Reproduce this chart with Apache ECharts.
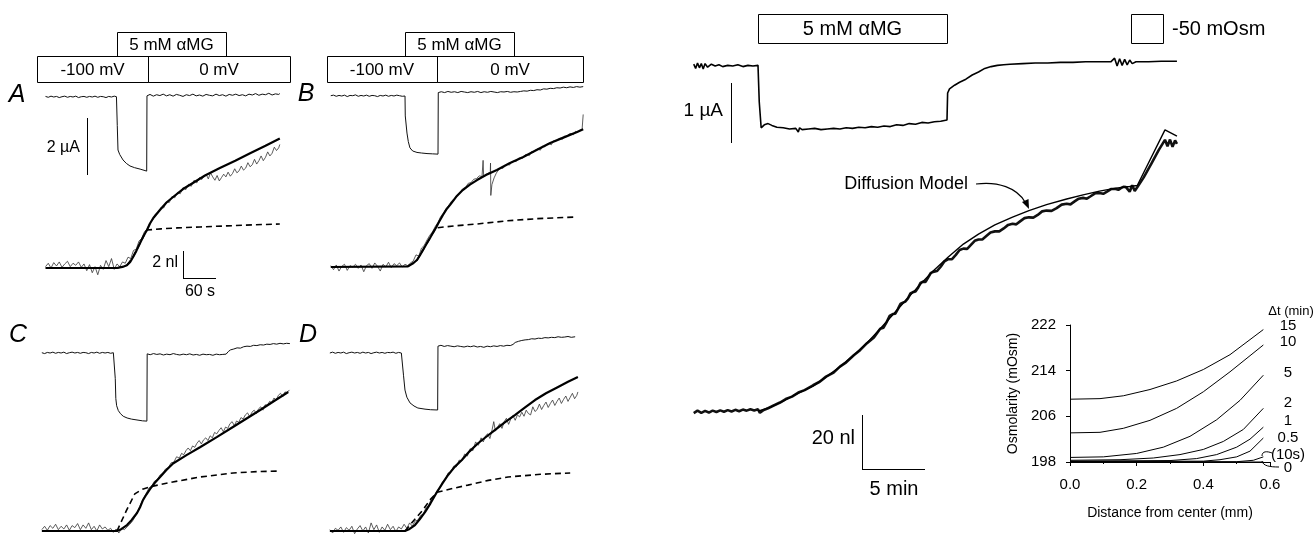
<!DOCTYPE html>
<html><head><meta charset="utf-8">
<script src="https://cdn.jsdelivr.net/npm/echarts@6/dist/echarts.min.js"></script>
<style>html,body{margin:0;padding:0;background:#fff}#c{width:1315px;height:536px}</style>
</head><body><div id="c"></div>
<script>
// ---------------- DATA ----------------
// Panels A-D: time in s (0 = start of 5 mM aMG), current in uA, volume in nl
const A_cur = [[-130,0.02],[-125,-0.01],[-120,0.03],[-115,0.0],[-110,0.02],[-105,-0.02],[-100,0.01],[-95,0.03],[-90,-0.01],[-85,0.02],[-80,0.0],[-75,0.03],[-70,-0.02],[-65,0.01],[-60,0.02],[-55,-0.01],[-50,0.02],[-45,0.0],[-40,0.03],[-35,-0.01],[-30,0.02],[-25,0.01],[-20,-0.02],[-15,0.02],[-10,0.0],[-5,0.03],[-1,0.01],[0,0.0],[0.5,-1.0],[1.8,-1.86],[5,-2.02],[11,-2.21],[17,-2.33],[23.6,-2.42],[32,-2.48],[42,-2.53],[54,-2.6],[54.5,0.04],[60,0.09],[66,0.03],[72,0.08],[78,0.05],[84,0.1],[90,0.04],[96,0.08],[102,0.03],[108,0.09],[114,0.06],[120,0.02],[126,0.08],[132,0.05],[138,0.1],[144,0.04],[150,0.07],[156,0.03],[162,0.09],[168,0.06],[174,0.04],[180,0.1],[186,0.05],[192,0.08],[198,0.03],[204,0.09],[210,0.06],[216,0.1],[222,0.05],[228,0.08],[234,0.04],[240,0.1],[246,0.07],[252,0.12],[258,0.06],[264,0.1],[270,0.08],[276,0.13],[282,0.07],[288,0.11],[294,0.09],[296,0.12]];
const A_raw = [[-130,0.1],[-125,0.35],[-120,0.0],[-115,0.4],[-110,0.15],[-105,0.45],[-100,0.05],[-95,0.3],[-90,0.5],[-85,0.1],[-80,0.35],[-75,0.2],[-70,0.45],[-65,0.05],[-60,0.3],[-55,-0.2],[-50,0.25],[-45,-0.35],[-40,0.1],[-35,-0.5],[-30,0.2],[-25,-0.1],[-20,0.55],[-15,0.1],[-10,0.7],[-5,-0.1],[0,0.3],[5,0.1],[10,0.45],[15,0.35],[20,0.8],[25,0.7],[30,1.3],[35,1.4],[40,2.0],[45,2.2],[50,2.7],[55,2.9],[60,3.35],[65,3.55],[70,4.0],[75,4.1],[80,4.5],[85,4.45],[90,4.9],[95,4.85],[100,5.3],[105,5.2],[110,5.6],[115,5.5],[120,5.95],[125,5.8],[130,6.2],[135,6.05],[140,6.5],[145,6.3],[150,6.7],[154,6.55],[158,6.8],[162,6.95],[166,6.6],[170,7.05],[174,6.75],[178,6.5],[182,6.85],[186,6.45],[190,6.7],[194,6.95],[198,6.75],[202,7.1],[206,6.8],[210,7.0],[214,7.35],[218,7.05],[222,7.2],[226,7.55],[230,7.25],[234,7.4],[238,7.8],[242,7.5],[246,7.65],[250,8.05],[254,7.7],[258,7.95],[262,8.3],[266,7.95],[270,8.2],[274,8.6],[278,8.3],[282,8.5],[286,8.95],[290,8.7],[294,8.9],[296,9.15]];
const A_fit = [[-130,0],[0,0],[10,0.08],[18,0.2],[24,0.45],[29,0.8],[35,1.25],[42,1.85],[48,2.35],[54.5,2.81],[60,3.3],[66,3.7],[72,4.0],[78,4.3],[90,4.85],[102,5.26],[120,5.85],[138,6.3],[160,6.85],[187,7.4],[215,7.95],[242,8.5],[270,9.05],[296,9.6]];
const A_dash = [[0,0],[18,0.2],[29,0.8],[42,1.85],[54.5,2.81],[80,2.9],[110,2.97],[151,3.04],[200,3.12],[250,3.2],[296,3.26]];

const B_cur = [[-135,0.01],[-130,0.03],[-125,-0.01],[-120,0.02],[-115,0.0],[-110,0.03],[-105,-0.02],[-100,0.02],[-95,0.01],[-90,0.04],[-85,-0.01],[-80,0.02],[-75,0.0],[-70,0.03],[-65,-0.01],[-60,0.02],[-55,0.01],[-50,-0.02],[-45,0.02],[-40,0.0],[-35,0.03],[-30,-0.01],[-25,0.02],[-20,0.0],[-15,0.03],[-10,0.01],[-5,-0.01],[0,0.0],[0.5,-0.7],[3.6,-1.3],[6,-1.6],[9,-1.82],[14,-1.93],[21.8,-1.98],[30,-2.0],[40,-2.02],[50,-2.03],[60,-2.04],[60.5,0.12],[66,0.15],[72,0.12],[78,0.16],[84,0.13],[90,0.15],[96,0.12],[102,0.16],[108,0.14],[114,0.12],[120,0.15],[126,0.13],[132,0.16],[138,0.12],[144,0.15],[150,0.13],[156,0.16],[162,0.14],[168,0.12],[174,0.15],[180,0.14],[186,0.16],[192,0.13],[198,0.15],[204,0.14],[210,0.16],[216,0.18],[222,0.17],[228,0.2],[234,0.19],[240,0.22],[246,0.21],[252,0.25],[258,0.24],[264,0.27],[270,0.26],[276,0.29],[282,0.28],[288,0.31],[294,0.29],[300,0.32],[306,0.3],[312,0.33],[318,0.31],[324,0.33]];
const B_raw = [[-135,0.1],[-130,-0.2],[-125,0.15],[-120,-0.3],[-115,0.05],[-110,0.2],[-105,-0.25],[-100,0.1],[-95,0.0],[-90,0.2],[-85,-0.1],[-80,0.15],[-75,-0.35],[-70,0.1],[-65,0.25],[-60,-0.1],[-55,0.3],[-50,0.05],[-45,-0.3],[-40,0.2],[-35,0.0],[-30,0.35],[-25,-0.05],[-20,0.25],[-15,0.1],[-10,0.3],[-5,0.0],[0,0.2],[5,0.1],[10,0.3],[15,0.45],[20,0.9],[25,0.8],[30,1.4],[35,1.6],[40,2.0],[45,2.35],[50,2.6],[55,3.0],[60,3.3],[65,3.75],[70,4.0],[75,4.35],[80,4.6],[85,4.9],[90,5.05],[95,5.35],[100,5.5],[105,5.8],[110,5.9],[115,6.2],[120,6.25],[125,6.5],[130,6.55],[135,6.75],[140,6.7],[142,7.9],[143,6.7],[147,6.85],[151,6.95],[155,7.0],[155.5,7.7],[156,5.3],[158,6.1],[162,6.6],[166,6.95],[170,7.2],[174,7.35],[178,7.3],[182,7.5],[186,7.6],[190,7.55],[194,7.8],[198,7.85],[202,7.8],[206,8.05],[210,8.1],[214,8.05],[218,8.3],[222,8.35],[226,8.25],[230,8.55],[234,8.5],[238,8.7],[242,8.75],[246,8.65],[250,8.95],[254,8.9],[258,9.1],[262,9.15],[266,9.05],[270,9.35],[274,9.3],[278,9.45],[282,9.55],[286,9.45],[290,9.7],[294,9.65],[298,9.85],[302,9.9],[306,9.8],[310,10.05],[314,10.0],[318,10.15],[322,10.2],[324,11.3]];
const B_fit = [[-135,0],[5.5,0.05],[14,0.25],[21.8,0.52],[27,0.85],[32.7,1.26],[39,1.7],[45.5,2.15],[51,2.55],[56,2.89],[62,3.35],[69,3.85],[75,4.25],[82,4.6],[93,5.2],[105,5.7],[118,6.1],[131,6.44],[148,6.83],[167,7.19],[190,7.68],[215,8.15],[240,8.68],[264,9.19],[290,9.62],[313,10.0],[324,10.2]];
const B_dash = [[5.5,0.05],[21.8,0.52],[32.7,1.26],[45.5,2.15],[56,2.89],[90,3.05],[130,3.18],[185,3.42],[240,3.58],[309,3.7]];

const C_cur = [[-133,0.01],[-128,-0.02],[-123,0.02],[-118,0.0],[-113,0.03],[-108,-0.01],[-103,0.02],[-98,0.0],[-93,0.03],[-88,-0.02],[-83,0.01],[-78,0.03],[-73,0.0],[-68,0.02],[-63,-0.01],[-58,0.02],[-53,0.01],[-48,-0.02],[-43,0.02],[-38,0.0],[-33,0.03],[-28,-0.01],[-23,0.02],[-18,0.0],[-13,0.02],[-8,-0.01],[-3,0.01],[0,0.0],[0.5,-0.9],[1.5,-1.6],[3,-1.85],[6,-2.02],[10,-2.13],[15,-2.22],[22,-2.28],[30,-2.32],[40,-2.35],[50,-2.38],[58,-2.39],[58.5,-0.03],[64,-0.06],[70,-0.02],[76,-0.05],[82,-0.03],[88,-0.07],[94,-0.04],[100,-0.06],[106,-0.02],[112,-0.05],[118,-0.07],[124,-0.04],[130,-0.06],[136,-0.03],[142,-0.07],[148,-0.05],[154,-0.08],[160,-0.04],[166,-0.06],[172,-0.05],[178,-0.08],[184,-0.04],[190,-0.06],[196,-0.05],[202,-0.04],[206,0.05],[210,0.11],[216,0.14],[222,0.18],[228,0.17],[234,0.22],[240,0.24],[246,0.23],[252,0.27],[258,0.26],[264,0.29],[270,0.28],[276,0.31],[282,0.3],[288,0.33],[294,0.31],[300,0.34],[306,0.32],[312,0.34],[318,0.33]];
const C_raw = [[-133,0.1],[-128,0.35],[-123,0.05],[-118,0.4],[-113,0.2],[-108,0.5],[-103,0.1],[-98,0.35],[-93,0.15],[-88,0.45],[-83,0.05],[-78,0.4],[-73,0.25],[-68,0.55],[-63,0.1],[-58,0.45],[-53,0.2],[-48,0.6],[-43,0.1],[-38,0.35],[-33,0.0],[-28,0.45],[-23,0.15],[-18,0.3],[-13,0.05],[-8,0.2],[-3,-0.1],[2,0.15],[7,-0.15],[12,0.2],[17,0.1],[22,0.3],[27,0.5],[32,0.75],[37,1.1],[42,1.5],[47,2.0],[52,2.45],[57,2.8],[62,3.2],[67,3.35],[72,3.7],[77,3.8],[82,4.15],[87,4.3],[92,4.6],[97,4.7],[102,5.05],[107,5.1],[112,5.5],[117,5.4],[121,5.75],[125,5.65],[129,5.95],[133,6.15],[137,5.95],[141,6.3],[145,6.2],[149,6.5],[153,6.7],[157,6.45],[161,6.75],[165,6.9],[169,6.7],[173,7.05],[177,6.9],[181,7.3],[185,7.2],[189,7.45],[193,7.65],[197,7.35],[201,7.7],[205,7.6],[209,7.95],[213,8.1],[217,7.8],[221,8.15],[225,8.05],[229,8.4],[233,8.3],[237,8.6],[241,8.75],[245,8.45],[249,8.8],[253,8.95],[257,8.7],[261,9.05],[265,9.2],[269,8.95],[273,9.35],[277,9.3],[281,9.6],[285,9.5],[289,9.85],[293,9.7],[297,10.05],[301,10.2],[305,9.95],[309,10.3],[313,10.25],[317,10.45]];
const C_fit = [[-133,0],[3.6,0],[12,0.15],[21.8,0.44],[30,0.8],[40,1.33],[46,1.8],[51,2.3],[57,2.7],[63.6,3.1],[72,3.55],[82,4.0],[93,4.5],[105.5,5.0],[130,5.62],[154.5,6.2],[185,6.95],[214.5,7.7],[240,8.35],[264,8.96],[290,9.65],[315,10.3]];
const C_dash = [[3.6,0],[20,1.45],[36,2.75],[50,3.1],[64,3.28],[105,3.63],[155,4.0],[215,4.3],[260,4.4],[300,4.44]];

const D_cur = [[-133,0.0],[-128,0.03],[-123,-0.01],[-118,0.02],[-113,0.0],[-108,0.03],[-103,-0.02],[-98,0.01],[-93,0.03],[-88,0.0],[-83,0.02],[-78,-0.01],[-73,0.03],[-68,0.0],[-63,0.02],[-58,-0.02],[-53,0.01],[-48,0.03],[-43,0.0],[-38,0.02],[-33,-0.01],[-28,0.02],[-23,0.01],[-18,0.03],[-13,-0.01],[-8,0.02],[-3,0.0],[0,0.01],[1,-0.8],[3.6,-1.3],[7,-1.55],[12.7,-1.75],[20,-1.86],[27,-1.93],[40,-1.97],[50,-1.99],[63,-2.0],[63.6,0.24],[69,0.27],[75,0.23],[81,0.26],[87,0.24],[93,0.22],[99,0.25],[105,0.23],[111,0.21],[117,0.24],[123,0.22],[129,0.25],[135,0.21],[141,0.23],[147,0.2],[153,0.24],[159,0.22],[165,0.25],[171,0.23],[177,0.26],[183,0.24],[189,0.27],[195,0.26],[200,0.3],[204,0.37],[210,0.41],[216,0.44],[222,0.46],[228,0.47],[234,0.5],[240,0.49],[246,0.52],[252,0.51],[258,0.54],[264,0.53],[270,0.55],[276,0.54],[282,0.57],[288,0.55],[294,0.56],[300,0.58],[306,0.55],[313,0.57]];
const D_raw = [[-133,0.1],[-128,-0.15],[-123,0.2],[-118,0.05],[-113,0.3],[-108,-0.1],[-103,0.25],[-98,0.05],[-93,0.35],[-88,-0.2],[-83,0.15],[-78,0.4],[-73,0.0],[-68,0.3],[-63,-0.15],[-58,0.6],[-53,0.1],[-48,0.45],[-43,-0.1],[-38,0.3],[-33,0.05],[-28,0.5],[-23,0.1],[-18,0.35],[-13,-0.05],[-8,0.3],[-3,0.15],[2,0.5],[7,0.2],[12,0.6],[17,0.35],[22,0.75],[27,0.8],[32,1.15],[37,1.25],[42,1.75],[47,1.9],[52,2.45],[57,2.6],[62,3.0],[67,3.15],[72,3.65],[77,3.8],[82,4.3],[87,4.35],[92,4.8],[97,4.75],[102,5.25],[107,5.2],[112,5.7],[117,5.55],[122,6.1],[127,5.95],[132,6.6],[137,6.35],[142,6.9],[146,6.6],[150,7.05],[154,7.2],[158,6.85],[162,7.5],[165,8.1],[168,7.4],[172,7.7],[176,7.95],[180,7.6],[184,8.1],[188,8.35],[192,7.9],[196,8.3],[200,8.55],[204,8.2],[208,8.6],[212,8.45],[216,8.8],[220,8.5],[224,8.95],[228,8.7],[232,8.6],[236,9.2],[240,8.85],[244,9.0],[248,9.4],[252,9.0],[256,9.3],[260,9.55],[264,9.15],[268,9.45],[272,9.7],[276,9.3],[280,9.6],[284,9.85],[288,9.45],[292,9.75],[296,10.0],[300,9.6],[304,9.9],[308,10.2],[312,9.8],[316,10.05],[318,10.3]];
const D_fit = [[-133,0],[3.6,0],[12,0.15],[21.8,0.44],[30,0.85],[40,1.4],[50,2.05],[61.8,2.89],[72,3.55],[82,4.15],[94,4.75],[107,5.26],[121,5.9],[136.5,6.5],[152,7.0],[167,7.48],[185,8.05],[204,8.6],[222,9.15],[240,9.7],[260,10.2],[282,10.67],[300,11.05],[318,11.4]];
const D_dash = [[3.6,0],[20,0.8],[35,1.5],[50,2.35],[62,2.87],[90,3.15],[118,3.4],[155,3.75],[191,4.0],[250,4.2],[304,4.3]];

// Right panel: time in min, current in uA, volume in nl
const R_cur = [[-5.1,0.03],[-4.95,-0.04],[-4.8,0.05],[-4.65,-0.03],[-4.5,0.04],[-4.35,-0.05],[-4.2,0.04],[-4.0,-0.02],[-3.7,0.03],[-3.4,0.0],[-3.1,0.02],[-2.8,-0.01],[-2.4,0.01],[-2.0,0.0],[-1.6,0.02],[-1.2,-0.01],[-0.8,0.01],[-0.4,0.0],[0,0.01],[0.1,-0.6],[0.25,-1.03],[0.5,-0.98],[0.8,-0.96],[1.1,-0.99],[1.5,-1.02],[2.0,-1.03],[2.5,-1.05],[3,-1.04],[3.2,-1.1],[3.3,-1.03],[3.5,-1.06],[4,-1.05],[4.5,-1.04],[5,-1.06],[5.5,-1.05],[6,-1.04],[6.5,-1.05],[7,-1.03],[7.5,-1.04],[8,-1.02],[8.5,-1.03],[9,-1.01],[9.5,-1.02],[10,-1.0],[10.5,-1.01],[11,-0.98],[11.5,-0.99],[12,-0.96],[12.5,-0.97],[13,-0.94],[13.5,-0.95],[14,-0.93],[14.5,-0.92],[15,-0.9],[15.05,-0.45],[15.2,-0.38],[15.6,-0.32],[16,-0.27],[16.5,-0.22],[17,-0.15],[17.5,-0.1],[18,-0.04],[18.5,-0.01],[19,0.01],[19.5,0.02],[20,0.03],[21,0.04],[22,0.05],[23,0.05],[24,0.06],[25,0.06],[26,0.07],[27,0.07],[28,0.07],[28.3,0.13],[28.5,0.0],[28.7,0.12],[28.9,0.01],[29.1,0.11],[29.3,0.02],[29.5,0.1],[29.7,0.04],[30,0.07],[31,0.07],[32,0.08],[33.25,0.08]];
const R_raw = [[-5.1,-0.4],[-4.8,0.5],[-4.5,-0.3],[-4.2,0.4],[-3.9,-0.2],[-3.6,0.5],[-3.3,0.0],[-3.0,0.6],[-2.7,0.1],[-2.4,0.7],[-2.1,0.2],[-1.8,0.8],[-1.5,0.3],[-1.2,0.9],[-0.9,0.5],[-0.6,1.0],[-0.3,0.6],[0.0,1.0],[0.15,-0.3],[0.4,0.6],[0.8,1.4],[1.2,2.3],[1.75,3.5],[2.2,4.8],[2.7,5.7],[3.2,7.2],[3.7,8.1],[4.37,9.9],[4.9,11.2],[5.4,13.1],[6.0,14.6],[6.5,16.8],[7.0,18.4],[7.6,21.0],[8.1,22.9],[8.65,25.5],[9.2,27.6],[9.7,30.8],[9.95,31.2],[10.2,33.2],[10.45,35.6],[10.7,36.3],[10.9,36.4],[11.1,38.1],[11.3,40.0],[11.5,40.5],[11.7,40.9],[11.9,42.1],[12.1,43.9],[12.3,44.4],[12.5,44.6],[12.7,46.0],[12.9,47.8],[13.1,48.3],[13.3,48.2],[13.5,49.8],[13.7,51.4],[13.9,51.9],[14.2,52.2],[14.5,53.8],[14.8,55.8],[15.1,56.6],[15.4,56.6],[15.7,58.2],[16.0,60.0],[16.3,60.5],[16.6,60.4],[16.9,61.9],[17.2,63.4],[17.5,63.9],[17.8,63.9],[18.1,65.1],[18.45,66.5],[18.8,66.9],[19.15,66.9],[19.5,68.0],[19.85,69.3],[20.2,69.7],[20.5,69.5],[20.8,70.6],[21.15,71.8],[21.5,72.1],[21.85,72.0],[22.2,73.0],[22.55,74.3],[22.9,74.6],[23.3,74.5],[23.7,75.5],[24.1,76.8],[24.5,77.1],[24.8,76.9],[25.1,77.9],[25.45,79.0],[25.8,79.3],[26.1,79.0],[26.4,79.9],[26.75,81.0],[27.1,81.1],[27.4,80.8],[27.7,81.6],[28.05,82.6],[28.4,82.6],[28.6,82.3],[28.8,82.9],[29.0,83.4],[29.2,83.3],[29.5,81.6],[29.7,84.0],[29.9,81.9],[30.1,83.2],[30.6,86.8],[31.2,91.8],[31.8,97.0],[32.3,100.8],[32.5,98.4],[32.7,100.9],[32.9,98.2],[33.1,100.6],[33.25,99.3]];
const R_fit = [[0,0.3],[1,1.8],[2,4.0],[3,6.5],[4.37,9.6],[5.5,13.3],[6.5,16.7],[7.6,21.0],[8.65,25.6],[9.7,30.8],[10.7,36.0],[11.5,40.2],[12.3,44.3],[13.1,48.3],[13.9,52.2],[15.1,57.4],[16.3,62.2],[17.5,65.9],[18.8,69.3],[20.2,72.2],[21.5,74.6],[22.9,76.8],[24.5,78.9],[25.8,80.4],[27.1,81.8],[28.4,82.9],[29.5,83.5],[30.1,83.9],[32.3,104.5],[33.25,102.2]];

// Inset: distance from center (mm) vs osmolarity (mOsm), one curve per delta t
const ins_0   = [[0,198],[0.58,198]];
const ins_10s = [[0,198.05],[0.5,198.05],[0.55,198.3],[0.58,198.9]];
const ins_05  = [[0,198.1],[0.4,198.15],[0.45,198.4],[0.5,198.9],[0.54,199.9],[0.58,202.2]];
const ins_1   = [[0,198.15],[0.3,198.25],[0.38,198.6],[0.44,199.3],[0.5,200.6],[0.54,202.0],[0.58,204.1]];
const ins_2   = [[0,198.3],[0.15,198.4],[0.25,198.7],[0.33,199.3],[0.4,200.2],[0.46,201.6],[0.52,203.7],[0.58,207.4]];
const ins_5   = [[0,198.8],[0.1,198.9],[0.2,199.5],[0.28,200.6],[0.36,202.5],[0.44,205.4],[0.51,208.8],[0.58,213.2]];
const ins_10  = [[0,203.1],[0.09,203.2],[0.16,203.9],[0.24,205.3],[0.32,207.4],[0.4,210.3],[0.48,213.8],[0.58,218.5]];
const ins_15  = [[0,209.0],[0.09,209.1],[0.16,209.6],[0.24,210.7],[0.32,212.2],[0.4,214.2],[0.48,216.8],[0.58,221.2]];
const insLabels = ['15','10','5','2','1','0.5','(10s)','0'];
const insYTicks = [198,206,214,222];
const insXTicks = [0,0.2,0.4,0.6];

// protocol / annotations (time units)
const protoAB = {agOn:0, agOff:198};
const voltA = {start:-145, sw:56, end:315};
const voltB = {start:-142, sw:58, end:324};
const protoR = {agOn:0, agOff:15, hypoOn:29.6, hypoOff:32.1};
const scaleL = {uA:2, nl:2, s:60};
const scaleR = {uA:1, nl:20, min:5};

// ---------------- LAYOUT ----------------
const ff = '"Liberation Sans", Arial, Helvetica, sans-serif';
const PXS=0.55, PXI=28.5, PXV=13.5;     // px per s, uA, nl (panels A-D)
const RPXM=12.6, RPXI=60, RPXV=2.7;     // px per min, uA, nl (right panel)
const TL=[-145,330], CUR=[-3,0.8], VOL=[-1.2,12.5];
const TR=[-6,34], RCUR=[-1.4,0.3], RVOL=[-3,112];
const panels = [
  {t0x:117, curY:97,  volY:268},
  {t0x:405, curY:96,  volY:267},
  {t0x:115, curY:353, volY:531},
  {t0x:403, curY:353, volY:531}
];
function mkGrid(t0x,tr,pxt,baseY,vr,pxv){
  return {left:t0x+tr[0]*pxt, top:baseY-vr[1]*pxv, width:(tr[1]-tr[0])*pxt, height:(vr[1]-vr[0])*pxv, containLabel:false, outerBoundsMode:'none'};
}
const grids=[], xAxes=[], yAxes=[], series=[];
function hidden(gi,r){return {type:'value',gridIndex:gi,min:r[0],max:r[1],show:false};}
function addLine(gi,data,lw,type,color){
  series.push({type:'line',xAxisIndex:gi,yAxisIndex:gi,data:data,showSymbol:false,symbol:'none',silent:true,animation:false,
    lineStyle:{color:color||'#000',width:lw,type:type||'solid'},z:2});
}
const curs=[A_cur,B_cur,C_cur,D_cur], raws=[A_raw,B_raw,C_raw,D_raw], fits=[A_fit,B_fit,C_fit,D_fit], dashes=[A_dash,B_dash,C_dash,D_dash];
panels.forEach((p,i)=>{
  const gc=grids.length;
  grids.push(mkGrid(p.t0x,TL,PXS,p.curY,CUR,PXI)); xAxes.push(hidden(gc,TL)); yAxes.push(hidden(gc,CUR));
  addLine(gc,curs[i],1,'solid','#111');
  const gv=grids.length;
  grids.push(mkGrid(p.t0x,TL,PXS,p.volY,VOL,PXV)); xAxes.push(hidden(gv,TL)); yAxes.push(hidden(gv,VOL));
  addLine(gv,raws[i],0.8,'solid','#333');
  addLine(gv,dashes[i],1.6,[6,4]);
  addLine(gv,fits[i],2.2);
});
// right panel
const gRc=grids.length;
grids.push(mkGrid(758,TR,RPXM,66,RCUR,RPXI)); xAxes.push(hidden(gRc,TR)); yAxes.push(hidden(gRc,RCUR));
addLine(gRc,R_cur,1.6);
const gRv=grids.length;
grids.push(mkGrid(758,TR,RPXM,412,RVOL,RPXV)); xAxes.push(hidden(gRv,TR)); yAxes.push(hidden(gRv,RVOL));
addLine(gRv,R_raw,2.6,'solid','#111');
addLine(gRv,R_fit,1.4);
// inset
const gI=grids.length;
grids.push({left:1070,top:325,width:200,height:137,containLabel:false,outerBoundsMode:'none'});
const axisTxt={color:'#000',fontFamily:ff};
xAxes.push({type:'value',gridIndex:gI,min:insXTicks[0],max:insXTicks[insXTicks.length-1],interval:insXTicks[1]-insXTicks[0],offset:10,
  axisLine:{show:true,lineStyle:{color:'#000',width:1}},axisTick:{show:true,length:4,lineStyle:{color:'#000'}},
  minorTick:{show:true,splitNumber:2,length:2,lineStyle:{color:'#000'}},splitLine:{show:false},
  axisLabel:Object.assign({fontSize:15,margin:5,formatter:v=>v.toFixed(1)},axisTxt),
  name:'Distance from center (mm)',nameLocation:'middle',nameGap:34,nameTextStyle:Object.assign({fontSize:14},axisTxt)});
const y0=insYTicks[0], yStep=insYTicks[1]-insYTicks[0];
yAxes.push({type:'value',gridIndex:gI,min:0,max:insYTicks[insYTicks.length-1]-y0,interval:yStep,offset:10,
  axisLine:{show:true,lineStyle:{color:'#000',width:1}},axisTick:{show:true,length:4,lineStyle:{color:'#000'}},splitLine:{show:false},
  axisLabel:Object.assign({fontSize:15,margin:4,formatter:v=>String(v+y0)},axisTxt),
  name:'Osmolarity (mOsm)',nameLocation:'middle',nameGap:40,nameRotate:90,nameTextStyle:Object.assign({fontSize:14},axisTxt)});
[ins_15,ins_10,ins_5,ins_2,ins_1,ins_05,ins_10s,ins_0].forEach(c=>addLine(gI,c.map(d=>[d[0],d[1]-y0]),1));

const chart=echarts.init(document.getElementById('c'),null,{renderer:'canvas',width:1315,height:536});
chart.setOption({animation:false,backgroundColor:'#fff',grid:grids,xAxis:xAxes,yAxis:yAxes,series:series});

// ---------------- ANNOTATIONS ----------------
const G=[];
const px=(gi,t)=>chart.convertToPixel({gridIndex:gi},[t,0])[0];
function box(x1,x2,y1,y2,label,fs){
  G.push({type:'rect',shape:{x:Math.round(x1)+0.5,y:y1+0.5,width:Math.round(x2-x1),height:y2-y1},style:{fill:'none',stroke:'#000',lineWidth:1},z:10});
  if(label) G.push({type:'text',style:{text:label,x:(x1+x2)/2,y:(y1+y2)/2+1,align:'center',verticalAlign:'middle',font:fs+'px '+ff,fill:'#000'},z:10});
}
function txt(s,x,y,fs,align,extra){G.push({type:'text',style:{text:s,x:x,y:y,align:align||'center',verticalAlign:'middle',font:(extra||'')+fs+'px '+ff,fill:'#000'},z:10});}
function ln(x1,y1,x2,y2,w){G.push({type:'line',shape:{x1:x1,y1:y1,x2:x2,y2:y2},style:{stroke:'#000',lineWidth:w||1},z:10});}

// A & B protocol boxes
[[0,voltA],[2,voltB]].forEach(([gi,v])=>{
  box(px(gi,protoAB.agOn),px(gi,protoAB.agOff),32,56,'5 mM \u03b1MG',17);
  box(px(gi,v.start),px(gi,v.sw),56,82,'-100 mV',17);
  box(px(gi,v.sw),px(gi,v.end),56,82,'0 mV',17);
});
// panel letters
txt('A',17,95,25,'center','italic ');
txt('B',306,94,25,'center','italic ');
txt('C',18,335,25,'center','italic ');
txt('D',308,335,25,'center','italic ');
// scale bars A
ln(87.5,118,87.5,118+scaleL.uA*PXI);
txt('2 \u00b5A',80,148,16,'right');
ln(183.5,278-scaleL.nl*PXV,183.5,278);
ln(183,278.5,183+scaleL.s*PXS,278.5);
txt('2 nl',178,263,16,'right');
txt('60 s',200,292,16,'center');
// right panel boxes
box(px(gRc,protoR.agOn),px(gRc,protoR.agOff),14,43,'5 mM \u03b1MG',20);
box(px(gRc,protoR.hypoOn),px(gRc,protoR.hypoOff),14,43,'',20);
txt('-50 mOsm',1172,29,20,'left');
// right scale bars
ln(731.5,83,731.5,83+scaleR.uA*RPXI);
txt('1 \u00b5A',723,111,19,'right');
ln(862.5,469-scaleR.nl*RPXV,862.5,469);
ln(862,469.5,862+scaleR.min*RPXM,469.5);
txt('20 nl',855,438,20,'right');
txt('5 min',894,489,20,'center');
// Diffusion model label + arrow
txt('Diffusion Model',968,184,18,'right');
G.push({type:'bezierCurve',shape:{x1:976,y1:184,cpx1:998,cpy1:181,cpx2:1017,cpy2:188,x2:1025,y2:202},style:{stroke:'#000',fill:'none',lineWidth:1.2},z:10});
G.push({type:'polygon',shape:{points:[[1029,209],[1022,202],[1028.5,199]]},style:{fill:'#000'},z:10});
// inset labels
txt('\u0394t (min)',1291,311,13,'center');
const labY=[326,342,373,403,421,438,455,468];
insLabels.forEach((s,i)=>txt(s,1288,labY[i],15,'center'));
G.push({type:'bezierCurve',shape:{x1:1262,y1:456,cpx1:1262,cpy1:451,cpx2:1267,cpy2:451,x2:1272,y2:453},style:{stroke:'#000',fill:'none',lineWidth:1},z:10});
G.push({type:'bezierCurve',shape:{x1:1262,y1:461,cpx1:1263,cpy1:466,cpx2:1270,cpy2:467,x2:1279,y2:467},style:{stroke:'#000',fill:'none',lineWidth:1},z:10});
chart.setOption({graphic:{elements:G}});
</script></body></html>
